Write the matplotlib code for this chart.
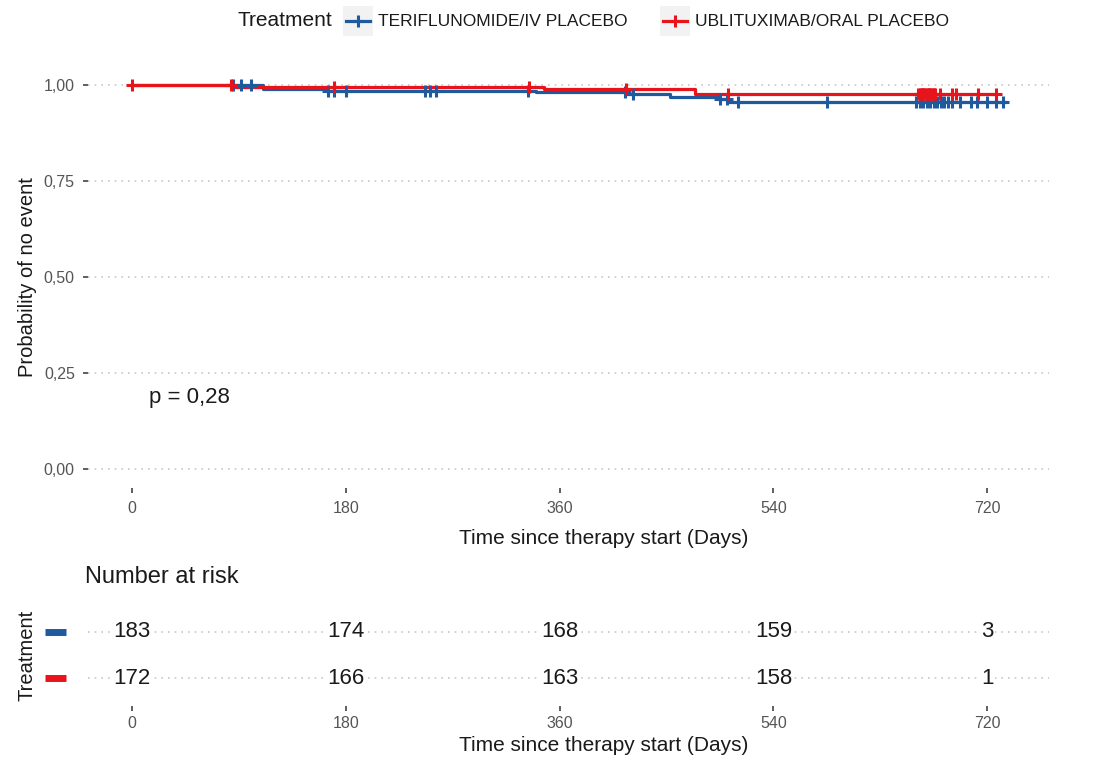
import numpy as np
import matplotlib
matplotlib.use("Agg")
import matplotlib.pyplot as plt
from matplotlib.lines import Line2D
from matplotlib.patches import Rectangle

plt.rcParams['font.family'] = ['Liberation Sans', 'DejaVu Sans']

# Kaplan-Meier steps
blue_times = [0, 110, 163, 340, 417, 453, 493, 503]
blue_surv = [1.0, 0.990, 0.986, 0.982, 0.976, 0.970, 0.965, 0.957]
blue_end = 735
blue_censor = [85, 92, 100, 165, 170, 180, 247, 251, 256, 333, 415, 422,
               495, 501, 510, 585, 660, 663, 666, 669, 672, 675, 678, 681,
               684, 687, 690, 697, 706, 711, 720, 727, 733]

red_times = [0, 84, 347, 474]
red_surv = [1.0, 0.995, 0.989, 0.978]
red_end = 727
red_censor = [0, 83, 170, 334, 416, 502, 662, 663, 664, 665, 666, 667, 668,
              669, 670, 671, 672, 673, 674, 675, 676, 680, 690, 694, 712, 727]

group_labels = ["TERIFLUNOMIDE/IV PLACEBO", "UBLITUXIMAB/ORAL PLACEBO"]
risk_times = [0, 180, 360, 540, 720]
blue_risk = [183, 174, 168, 159, 3]
red_risk = [172, 166, 163, 158, 1]
y_ticks = [0.0, 0.25, 0.50, 0.75, 1.0]
y_tick_labels = ["0,00", "0,25", "0,50", "0,75", "1,00"]
p_text = "p = 0,28"

BLUE = '#1F5A9E'
RED = '#E8141B'
GRID = '#c8c8c8'
TXT = '#555555'
DARK = '#1a1a1a'

W, H = 1110, 762
fig = plt.figure(figsize=(W / 100, H / 100), dpi=100)


def px_axes(x0, y0, x1, y1):
    return fig.add_axes([x0 / W, 1 - y1 / H, (x1 - x0) / W, (y1 - y0) / H])


def step_value(times, surv, t):
    idx = np.searchsorted(times, t, side='right') - 1
    return np.array(surv)[idx]


xlim = (-37, 772)
xlab_x = (604 - 88) / (1049 - 88)

ax = px_axes(88, 66, 1049, 488)
for times, surv, end, cens, col in [
        (blue_times, blue_surv, blue_end, blue_censor, BLUE),
        (red_times, red_surv, red_end, red_censor, RED)]:
    xs = list(times) + [end]
    ys = list(surv) + [surv[-1]]
    ax.step(xs, ys, where='post', color=col, lw=2.3, zorder=3)
    cy = step_value(times, surv, np.array(cens))
    ax.plot(cens, cy, ls='none', marker='+', ms=8, mew=2.2, color=col,
            zorder=4)

ax.set_xlim(*xlim)
ax.set_ylim(-0.05, 1.05)
ax.set_xticks(risk_times)
ax.set_yticks(y_ticks)
ax.set_yticklabels(y_tick_labels)
for y in y_ticks:
    ax.axhline(y, color=GRID, lw=1.2, ls=(0, (1, 3)), zorder=1)
for s in ax.spines.values():
    s.set_visible(False)
ax.tick_params(colors='#333333', labelcolor=TXT, labelsize=11.5, length=3.5,
               width=1.1, pad=6)
ax.set_xlabel("Time since therapy start (Days)", fontsize=15, color=DARK,
              labelpad=9)
ax.xaxis.label.set_x(xlab_x)
ax.set_ylabel("Probability of no event", fontsize=14.5, color=DARK,
              labelpad=5)
ax.text(14, 0.185, p_text, fontsize=16, color=DARK, va='center')

# risk table
rax = px_axes(88, 604, 1049, 706)
rax.set_xlim(*xlim)
rax.set_ylim(2.6, 0.4)
for row, counts in [(1, blue_risk), (2, red_risk)]:
    rax.axhline(row, color=GRID, lw=1.2, ls=(0, (1, 3)), zorder=1)
    for t, n in zip(risk_times, counts):
        rax.text(t, row, str(n), ha='center', va='center', fontsize=16,
                 color=DARK, zorder=3,
                 bbox=dict(fc='white', ec='none', pad=1.5))
rax.set_xticks(risk_times)
rax.set_yticks([])
for s in rax.spines.values():
    s.set_visible(False)
rax.tick_params(colors='#333333', labelcolor=TXT, labelsize=11.5, length=3.5,
                width=1.1, pad=4)
rax.set_xlabel("Time since therapy start (Days)", fontsize=15, color=DARK,
               labelpad=3)
rax.xaxis.label.set_x(xlab_x)
rax.set_ylabel("Treatment", fontsize=14.5, color=DARK, labelpad=37)
fig.text(85 / W, 1 - 577 / H, "Number at risk", fontsize=17, color=DARK,
         va='center')
for ypix, col in [(632, BLUE), (678, RED)]:
    fig.add_artist(Line2D([45 / W, 66 / W], [1 - ypix / H] * 2, color=col,
                          lw=5, solid_capstyle='butt'))

# legend on top
fig.text(237 / W, 1 - 20 / H, "Treatment", fontsize=15, color=DARK,
         va='center')
for kx, lab, col in [(343, group_labels[0], BLUE), (660, group_labels[1], RED)]:
    fig.add_artist(Rectangle((kx / W, 1 - 36 / H), 30 / W, 30 / H,
                             transform=fig.transFigure, fc='#f2f2f2',
                             ec='none'))
    fig.add_artist(Line2D([(kx + 3) / W, (kx + 27) / W], [1 - 21 / H] * 2,
                          color=col, lw=2.3))
    fig.add_artist(Line2D([(kx + 15) / W], [1 - 21 / H], color=col,
                          marker='+', ms=8, mew=2.2, ls='none'))
    fig.text((kx + 35) / W, 1 - 21 / H, lab, fontsize=12.5, color=DARK,
             va='center')

fig.savefig("out.png", dpi=100)
